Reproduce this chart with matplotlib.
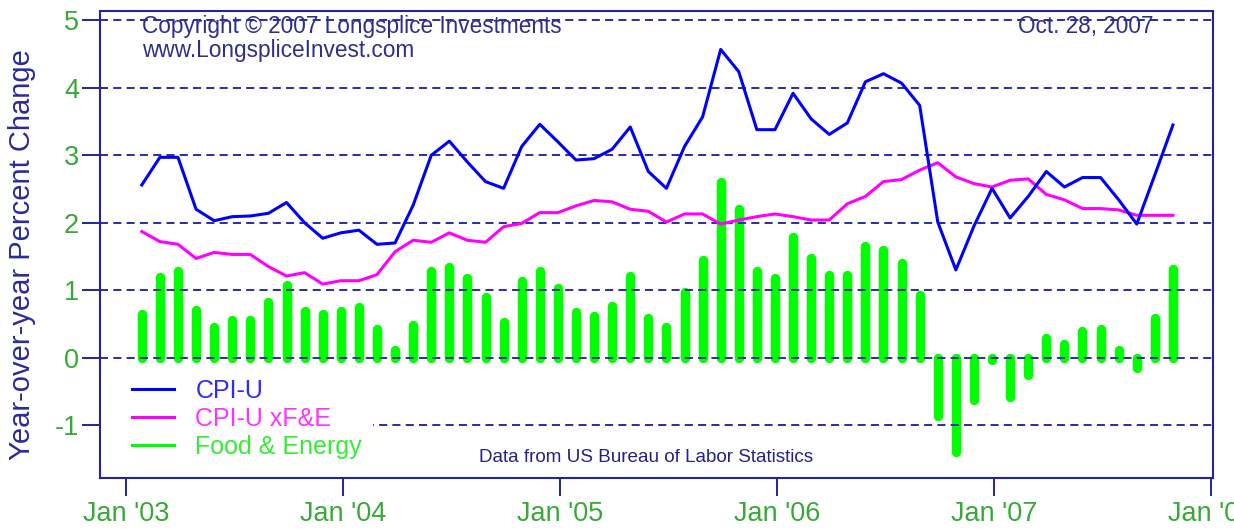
import numpy as np
import matplotlib
matplotlib.use("Agg")
import matplotlib.pyplot as plt
from matplotlib.lines import Line2D
from matplotlib.patches import Rectangle

plt.rcParams['font.family'] = ['Liberation Sans', 'DejaVu Sans']
plt.rcParams['axes.unicode_minus'] = False

# monthly year-over-year % change, Jan 2003 .. Oct 2007
start_year = 2003
cpi_u = [2.56, 2.97, 2.97, 2.20, 2.03, 2.09, 2.10, 2.14, 2.30, 2.00, 1.77, 1.85,
         1.89, 1.68, 1.70, 2.26, 3.00, 3.21, 2.90, 2.61, 2.51, 3.13, 3.46, 3.20,
         2.93, 2.95, 3.09, 3.42, 2.76, 2.51, 3.13, 3.57, 4.57, 4.24, 3.38, 3.38,
         3.92, 3.54, 3.31, 3.48, 4.09, 4.21, 4.07, 3.74, 2.01, 1.30, 1.95, 2.51,
         2.07, 2.39, 2.76, 2.53, 2.67, 2.67, 2.34, 1.98, 2.71, 3.45]
cpi_core = [1.87, 1.72, 1.68, 1.47, 1.56, 1.53, 1.53, 1.35, 1.21, 1.26, 1.09, 1.14,
            1.14, 1.23, 1.57, 1.74, 1.71, 1.85, 1.74, 1.71, 1.94, 1.99, 2.15, 2.15,
            2.25, 2.33, 2.31, 2.20, 2.17, 2.01, 2.13, 2.13, 1.98, 2.04, 2.09, 2.13,
            2.09, 2.04, 2.04, 2.28, 2.39, 2.61, 2.64, 2.78, 2.89, 2.68, 2.58, 2.53,
            2.63, 2.65, 2.42, 2.34, 2.21, 2.21, 2.19, 2.11, 2.11, 2.11]
food_energy = [0.64, 1.19, 1.29, 0.71, 0.45, 0.56, 0.56, 0.82, 1.08, 0.69, 0.64, 0.69,
               0.75, 0.43, 0.11, 0.48, 1.29, 1.34, 1.18, 0.90, 0.53, 1.13, 1.28, 1.03,
               0.67, 0.61, 0.76, 1.21, 0.58, 0.45, 0.98, 1.44, 2.61, 2.21, 1.29, 1.18,
               1.79, 1.47, 1.22, 1.22, 1.65, 1.60, 1.40, 0.93, -0.86, -1.40, -0.63, -0.04,
               -0.59, -0.26, 0.29, 0.20, 0.39, 0.43, 0.11, -0.16, 0.58, 1.31]
tick_years = [2003, 2004, 2005, 2006, 2007, 2008]
tick_labels = ["Jan '03", "Jan '04", "Jan '05", "Jan '06", "Jan '07", "Jan '08"]
y_ticks = [-1, 0, 1, 2, 3, 4, 5]

navy = '#2323a0'
green_txt = '#38a838'

# points sit near the end of each month
x = start_year + (np.arange(len(cpi_u)) + 0.87) / 12.0

fig = plt.figure(figsize=(12.34, 5.29), dpi=100)
ax = fig.add_axes([100 / 1234, 1 - 478.3 / 529, 1113 / 1234, 467.3 / 529])

bars = ax.vlines(x, 0, food_energy, colors='#00ff00', linewidth=6.8, zorder=1.5)
bars.set_capstyle('round')
ax.plot(x, cpi_core, color='#ff00ff', linewidth=2.2, zorder=3)
ax.plot(x, cpi_u, color='#0000ff', linewidth=2.2, zorder=3.1)

for v in y_ticks:
    ax.axhline(v, color='#3030a8', linewidth=1.45, linestyle=(0, (4.0, 2.6)), zorder=2)

ax.set_xlim(2002.88, 2008.007)
ax.set_ylim(-1.79, 5.14)
ax.set_xticks(tick_years)
ax.set_xticklabels(tick_labels)
ax.set_yticks(y_ticks)
ax.tick_params(direction='out', length=13, width=1.4, color=navy,
               labelcolor=green_txt, labelsize=19.5, pad=2)
ax.tick_params(axis='x', pad=3)
for s in ax.spines.values():
    s.set_color(navy)
    s.set_linewidth(1.5)

# white box behind the legend
ax.add_patch(Rectangle((0.001, 0.03), 0.244, 0.19, transform=ax.transAxes,
                       facecolor='white', edgecolor='none', zorder=4))
handles = [Line2D([], [], color='#0000ff', linewidth=2.2),
           Line2D([], [], color='#ff00ff', linewidth=2.2),
           Line2D([], [], color='#00ff00', linewidth=2.2)]
leg = ax.legend(handles, ['CPI-U', 'CPI-U xF&E', 'Food & Energy'],
                loc='upper left', bbox_to_anchor=(0.0285, 0.213), borderaxespad=0,
                borderpad=0, frameon=False, fontsize=18, handlelength=1.7,
                handletextpad=0.85, labelspacing=0.16,
                labelcolor=['#2b2bff', '#ff33ff', '#33ee33'])
leg.set_zorder(5)

fig.text(141.7 / 1234, 1 - 33 / 529, 'Copyright \u00a9 2007 Longsplice Investments',
         fontsize=16.3, color='#2e2e8e', ha='left', va='baseline')
fig.text(141.7 / 1234, 1 - 56.5 / 529, 'www.LongspliceInvest.com',
         fontsize=16.3, color='#2e2e8e', ha='left', va='baseline')
fig.text(1153 / 1234, 1 - 33 / 529, 'Oct. 28, 2007',
         fontsize=16.3, color='#2e2e8e', ha='right', va='baseline')
fig.text(646.5 / 1234, 1 - 462 / 529, 'Data from US Bureau of Labor Statistics',
         fontsize=13.6, color='#22228a', ha='center', va='baseline')
fig.text(22 / 1234, 1 - 255 / 529, 'Year-over-year Percent Change',
         fontsize=21, color='#2a2a9a', rotation=90, ha='center', va='center')

fig.savefig('out.png', dpi=100, facecolor='white')
